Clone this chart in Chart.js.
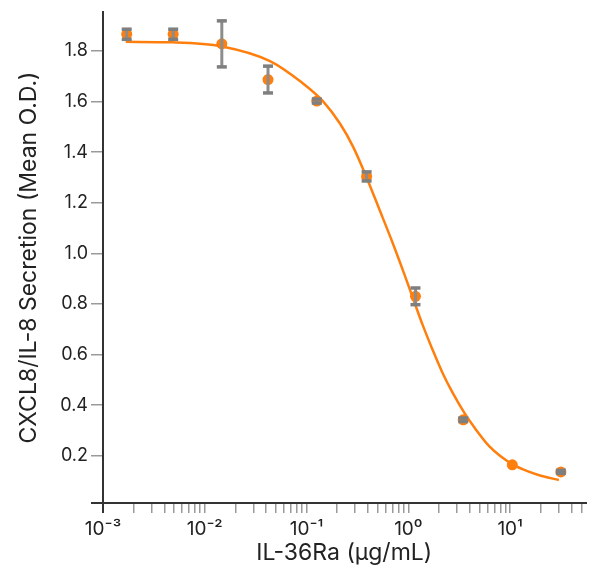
<!DOCTYPE html>
<html>
<head>
<meta charset="utf-8">
<script src="https://cdn.jsdelivr.net/npm/chart.js@4"></script>
<style>
  html, body { margin: 0; padding: 0; background: #fff; }
</style>
</head>
<body>
<canvas id="grafiek" width="591" height="574"></canvas>
<script>
// meetpunten (verdunningsreeks)
const doses = [0.00171, 0.00489, 0.0147, 0.0418, 0.126, 0.389, 1.175, 3.46, 10.5, 31.5];
const meanOD = [1.866, 1.866, 1.828, 1.687, 1.602, 1.304, 0.830, 0.342, 0.164, 0.136];
const sdOD = [0.02, 0.02, 0.091, 0.053, 0.008, 0.018, 0.033, 0.007, null, 0.006];

// fitcurve
const fitX = [0.00167, 0.00481, 0.0148, 0.0437, 0.09, 0.146, 0.212, 0.286, 0.386, 0.521, 0.703, 0.916, 1.148, 1.384, 1.733, 2.173, 2.719, 3.54, 4.60, 6.22, 8.0, 10.9, 15, 20, 30.1];
const fitY = [1.836, 1.834, 1.818, 1.760, 1.675, 1.600, 1.514, 1.422, 1.303, 1.172, 1.040, 0.916, 0.806, 0.716, 0.618, 0.526, 0.449, 0.370, 0.304, 0.238, 0.199, 0.163, 0.138, 0.121, 0.104];

// assen
const yTicks = [0.2, 0.4, 0.6, 0.8, 1.0, 1.2, 1.4, 1.6, 1.8];
const xDecades = [0.001, 0.01, 0.1, 1, 10];
const xTickLabels = ['10⁻³', '10⁻²', '10⁻¹', '10⁰', '10¹'];
const xMin = 0.001, xMax = 55;
const yMin = 0.013, yMax = 1.954;

const oranje = '#ff7f0e';
const grijs = '#7f7f7f';

// alle tickposities 1..9 x 10^n
const xTickValues = [];
xDecades.forEach(d => {
    for (let k = 1; k <= 9; k++) {
        const v = +(k * d).toPrecision(6);
        if (v <= xMax) xTickValues.push(v);
    }
});

const foutbalken = {
    id: 'foutbalken',
    afterDatasetsDraw(chart) {
        const {ctx, scales: {x, y}} = chart;
        ctx.save();
        doses.forEach((d, i) => {
            if (sdOD[i] == null) return;
            const px = x.getPixelForValue(d);
            const top = y.getPixelForValue(meanOD[i] + sdOD[i]);
            const bot = y.getPixelForValue(meanOD[i] - sdOD[i]);
            ctx.strokeStyle = '#8c8c8c';
            ctx.lineWidth = 3;
            ctx.beginPath();
            ctx.moveTo(px, top);
            ctx.lineTo(px, bot);
            ctx.stroke();
            ctx.fillStyle = grijs;
            ctx.fillRect(px - 5, top - 1.75, 10, 3.5);
            ctx.fillRect(px - 5, bot - 1.75, 10, 3.5);
        });
        ctx.restore();
    }
};

new Chart(document.getElementById('grafiek').getContext('2d'), {
    type: 'scatter',
    data: {
        datasets: [{
            data: doses.map((d, i) => ({x: d, y: meanOD[i]})),
            backgroundColor: oranje,
            borderWidth: 0,
            pointRadius: 5.5
        }, {
            type: 'line',
            data: fitX.map((v, i) => ({x: v, y: fitY[i]})),
            borderColor: oranje,
            borderWidth: 2.5,
            pointRadius: 0,
            fill: false,
            cubicInterpolationMode: 'monotone'
        }]
    },
    options: {
        responsive: false,
        animation: false,
        devicePixelRatio: 1,
        layout: { padding: { top: 12, right: 2, left: 0, bottom: 0 } },
        plugins: { legend: { display: false }, tooltip: { enabled: false } },
        scales: {
            x: {
                type: 'logarithmic',
                min: xMin,
                max: xMax,
                afterBuildTicks: axis => { axis.ticks = xTickValues.map(v => ({value: v})); },
                afterFit: axis => {
                    axis.height = 71;
                    axis.paddingLeft = 0;
                    axis.paddingRight = 0;
                },
                border: { color: '#333', width: 2 },
                grid: {
                    drawOnChartArea: false,
                    drawTicks: true,
                    tickLength: 10,
                    color: c => c.index === 0 ? '#333' : '#9a9a9a',
                    lineWidth: c => c.index === 0 ? 2 : 1.5
                },
                ticks: {
                    autoSkip: false,
                    maxRotation: 0,
                    minRotation: 0,
                    padding: 5,
                    color: '#222',
                    font: { family: 'Inter', size: 19 },
                    callback: v => {
                        const i = xDecades.findIndex(d => Math.abs(Math.log10(v) - Math.log10(d)) < 1e-6);
                        return i >= 0 ? xTickLabels[i] : '';
                    }
                },
                title: {
                    display: true,
                    text: 'IL-36Ra (μg/mL)',
                    color: '#222',
                    font: { family: 'Inter', size: 23 },
                    padding: { top: 0, bottom: 7 }
                }
            },
            y: {
                min: yMin,
                max: yMax,
                afterBuildTicks: axis => { axis.ticks = [yMin, ...yTicks].map(v => ({value: v})); },
                afterFit: axis => {
                    axis.width = 103;
                    axis.paddingTop = 0;
                    axis.paddingBottom = 0;
                },
                border: { color: '#333', width: 2 },
                grid: {
                    drawOnChartArea: false,
                    drawTicks: true,
                    tickLength: 12,
                    color: c => c.index === 0 ? '#333' : '#9a9a9a',
                    lineWidth: c => c.index === 0 ? 2 : 1.5
                },
                ticks: {
                    padding: 3,
                    color: '#222',
                    font: { family: 'Inter', size: 18 },
                    callback: v => yTicks.includes(v) ? v.toFixed(1) : ''
                },
                title: {
                    display: true,
                    text: 'CXCL8/IL-8 Secretion (Mean O.D.)',
                    color: '#222',
                    font: { family: 'Inter', size: 23 },
                    padding: { top: 15, bottom: 0 }
                }
            }
        }
    },
    plugins: [foutbalken]
});
</script>
</body>
</html>
